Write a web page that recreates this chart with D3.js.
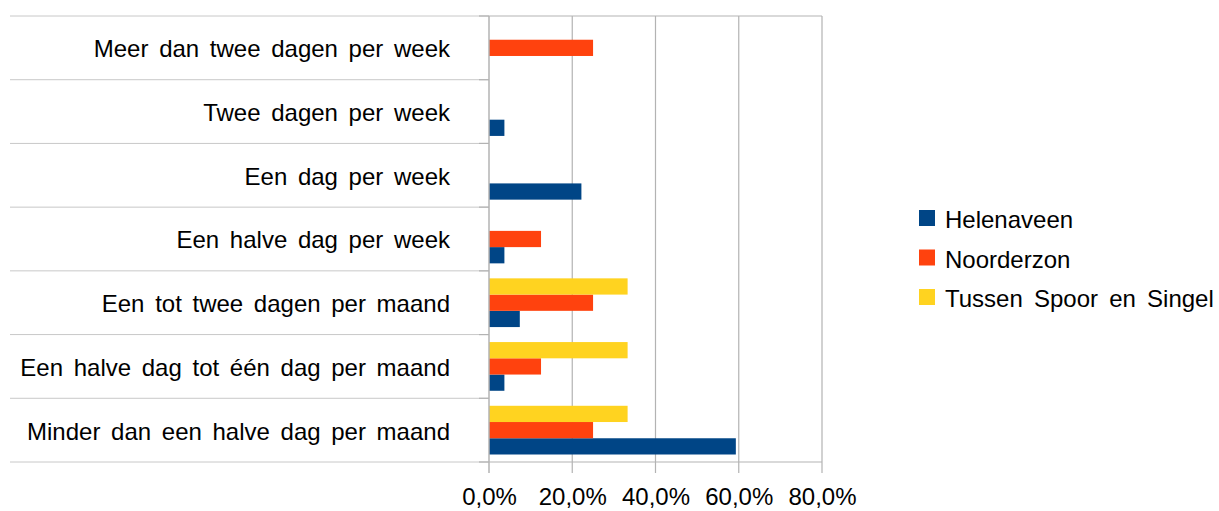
<!DOCTYPE html>
<html>
<head>
<meta charset="utf-8">
<script src="https://cdn.jsdelivr.net/npm/d3@7"></script>
<style>
  body { margin: 0; background: #fff; }
  text { font-family: "Liberation Sans", Arial, sans-serif; }
</style>
</head>
<body>
<div id="chart"></div>
<script>
// categories, top to bottom
var categories = [
  "Meer dan twee dagen per week",
  "Twee dagen per week",
  "Een dag per week",
  "Een halve dag per week",
  "Een tot twee dagen per maand",
  "Een halve dag tot één dag per maand",
  "Minder dan een halve dag per maand"
];
var seriesNames = ["Helenaveen", "Noorderzon", "Tussen Spoor en Singel"];
var helenaveen = [0, 0.037, 0.222, 0.037, 0.074, 0.037, 0.593];
var noorderzon = [0.25, 0, 0, 0.125, 0.25, 0.125, 0.25];
var tussen     = [0, 0, 0, 0, 0.333, 0.333, 0.333];
var tickValues = [0, 0.2, 0.4, 0.6, 0.8];
var colors = ["#004586", "#ff420e", "#ffd320"];

var W = 1219, H = 511;
var pLeft = 489, pRight = 822, pTop = 16, pBottom = 462;

var svg = d3.select("#chart").append("svg")
  .attr("width", W).attr("height", H);

var x = d3.scaleLinear().domain([0, 0.8]).range([pLeft, pRight]);
var y = d3.scaleBand().domain(categories).range([pTop, pBottom]);
// within a band the first series sits at the bottom
var yInner = d3.scaleBand().domain(seriesNames.slice().reverse())
  .range([7.5, y.bandwidth() - 7.5]);
var color = d3.scaleOrdinal().domain(seriesNames).range(colors);

var values = [helenaveen, noorderzon, tussen];

// vertical grid lines (with ticks below)
svg.selectAll(".vgrid")
  .data(tickValues.slice(1))
  .enter().append("line")
  .attr("x1", function(d){ return x(d); })
  .attr("x2", function(d){ return x(d); })
  .attr("y1", pTop).attr("y2", pBottom + 11)
  .style("stroke", "#b3b3b3").style("stroke-width", "1.2px");

// category separators across label area
var seps = d3.range(categories.length + 1).map(function(i){ return pTop + i * y.step(); });
svg.selectAll(".sep")
  .data(seps)
  .enter().append("line")
  .attr("x1", 10).attr("x2", pLeft)
  .attr("y1", function(d){ return d; }).attr("y2", function(d){ return d; })
  .style("stroke", "#c8c8c8").style("stroke-width", "1px");
svg.selectAll(".ytick")
  .data(seps)
  .enter().append("line")
  .attr("x1", pLeft - 10).attr("x2", pLeft)
  .attr("y1", function(d){ return d; }).attr("y2", function(d){ return d; })
  .style("stroke", "#b3b3b3").style("stroke-width", "1.2px");

// top and bottom border of plot
[pTop, pBottom].forEach(function(yy){
  svg.append("line")
    .attr("x1", pLeft).attr("x2", pRight).attr("y1", yy).attr("y2", yy)
    .style("stroke", "#b3b3b3").style("stroke-width", "1.2px");
});

// bars
seriesNames.forEach(function(s, si){
  svg.selectAll(".bar" + si)
    .data(values[si])
    .enter().append("rect")
    .attr("x", x(0))
    .attr("y", function(d, i){ return y(categories[i]) + yInner(s); })
    .attr("width", function(d){ return x(d) - x(0); })
    .attr("height", yInner.bandwidth())
    .style("fill", color(s));
});

// left axis line
svg.append("line")
  .attr("x1", pLeft).attr("x2", pLeft).attr("y1", pTop).attr("y2", pBottom + 11)
  .style("stroke", "#b3b3b3").style("stroke-width", "1.5px");

// x axis labels
var fmt = function(d){ return d3.format(".1%")(d).replace(".", ","); };
var xAxis = svg.append("g")
  .attr("transform", "translate(0," + pBottom + ")")
  .call(d3.axisBottom(x).tickValues(tickValues).tickFormat(fmt).tickSize(0).tickPadding(26));
xAxis.select(".domain").remove();
xAxis.selectAll("text")
  .style("font-family", "'Liberation Sans', Arial, sans-serif")
  .style("font-size", "24px").attr("fill", "#000");

// category labels
svg.selectAll(".catlabel")
  .data(categories)
  .enter().append("text")
  .attr("x", 450)
  .attr("y", function(d){ return y(d) + y.bandwidth() / 2 + 1; })
  .attr("dy", "0.35em")
  .attr("text-anchor", "end")
  .style("font-size", "24px")
  .style("word-spacing", "4px")
  .attr("fill", "#000")
  .text(function(d){ return d; });

// legend
var legend = svg.append("g").attr("transform", "translate(919,210)");
legend.selectAll("rect")
  .data(seriesNames)
  .enter().append("rect")
  .attr("x", 0)
  .attr("y", function(d, i){ return i * 39.5; })
  .attr("width", 16).attr("height", 16)
  .style("fill", function(d){ return color(d); });
legend.selectAll("text")
  .data(seriesNames)
  .enter().append("text")
  .attr("x", 26)
  .attr("y", function(d, i){ return i * 39.5 + 10; })
  .attr("dy", "0.35em")
  .style("font-size", "24px")
  .style("word-spacing", "4.5px")
  .attr("fill", "#000")
  .text(function(d){ return d; });
</script>
</body>
</html>
